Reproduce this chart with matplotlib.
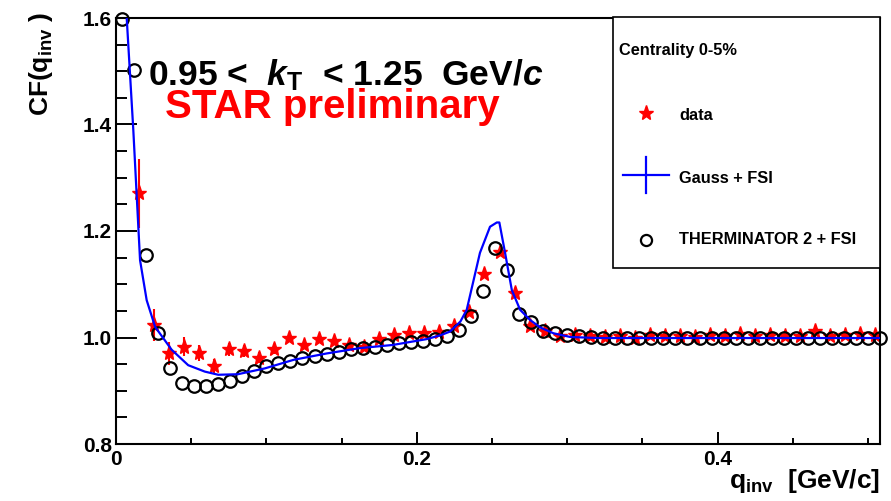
import numpy as np
import matplotlib
matplotlib.use("Agg")
import matplotlib.pyplot as plt
from matplotlib.lines import Line2D
from matplotlib.patches import Rectangle
from matplotlib.ticker import MultipleLocator, FuncFormatter

plt.rcParams['font.family'] = ['Liberation Sans', 'DejaVu Sans']
plt.rcParams['font.weight'] = 'bold'
plt.rcParams['mathtext.fontset'] = 'custom'
plt.rcParams['mathtext.rm'] = 'Liberation Sans:bold'
plt.rcParams['mathtext.it'] = 'Liberation Sans:italic:bold'
plt.rcParams['mathtext.bf'] = 'Liberation Sans:bold'

# STAR data, 0.01 GeV/c bins
data_q = np.round(0.015 + 0.01 * np.arange(50), 3)
data_cf = [1.271, 1.023, 0.970, 0.983, 0.970, 0.947, 0.978, 0.974, 0.962, 0.978,
           1.000, 0.986, 0.998, 0.994, 0.986, 0.983, 0.998, 1.004, 1.009, 1.008,
           1.011, 1.022, 1.047, 1.120, 1.161, 1.083, 1.021, 1.012, 1.003, 1.004,
           1.002, 1.001, 1.003, 1.000, 1.004, 1.002, 1.003, 1.001, 1.005, 1.003,
           1.006, 1.002, 1.004, 1.003, 1.002, 1.013, 1.003, 1.004, 1.006, 1.004]
data_err = [0.065, 0.030, 0.022, 0.018, 0.015, 0.013, 0.012, 0.011, 0.010, 0.009,
            0.009, 0.008, 0.008, 0.007, 0.007, 0.007, 0.006, 0.006, 0.006, 0.006,
            0.006, 0.006, 0.006, 0.006, 0.006, 0.006, 0.005, 0.005, 0.005, 0.005,
            0.005, 0.005, 0.005, 0.005, 0.005, 0.005, 0.005, 0.005, 0.005, 0.005,
            0.005, 0.005, 0.005, 0.005, 0.005, 0.005, 0.005, 0.005, 0.005, 0.005]

# THERMINATOR 2 + FSI, 0.008 GeV/c bins
therm_q = np.round(0.004 + 0.008 * np.arange(64), 3)
therm_cf = [1.598, 1.502, 1.155, 1.008, 0.943, 0.915, 0.908, 0.909, 0.913, 0.919,
            0.928, 0.938, 0.946, 0.952, 0.956, 0.961, 0.965, 0.969, 0.973, 0.978,
            0.980, 0.983, 0.986, 0.989, 0.992, 0.994, 0.998, 1.002, 1.014, 1.040,
            1.088, 1.169, 1.127, 1.045, 1.030, 1.013, 1.008, 1.005, 1.003, 1.001,
            1.000, 1.000, 0.999, 0.999, 1.000, 0.999, 0.999, 1.000, 0.999, 0.999,
            0.999, 1.000, 0.999, 0.999, 0.999, 0.999, 1.000, 0.999, 0.999, 0.999,
            0.999, 0.999, 0.999, 0.999]

# Gauss + FSI fit
fit_q = [0.004, 0.0115, 0.016, 0.0204, 0.026, 0.037, 0.048, 0.059, 0.068, 0.081,
         0.099, 0.118, 0.140, 0.162, 0.184, 0.2066, 0.2155, 0.222, 0.229, 0.2332,
         0.242, 0.2487, 0.2532, 0.2549, 0.2587, 0.2632, 0.2687, 0.2753, 0.282, 0.2908,
         0.302, 0.32, 0.40, 0.508]
fit_cf = [1.75, 1.39, 1.145, 1.07, 1.02, 0.977, 0.948, 0.936, 0.930, 0.931,
          0.942, 0.958, 0.970, 0.980, 0.986, 0.997, 1.004, 1.011, 1.030, 1.052,
          1.159, 1.208, 1.216, 1.216, 1.159, 1.089, 1.052, 1.033, 1.019, 1.008,
          1.001, 0.999, 0.999, 0.999]

W, H = 891, 501
fig = plt.figure(figsize=(W / 100, H / 100), dpi=100)
ax = fig.add_axes([116 / W, 1 - 444 / H, (880 - 116) / W, (444 - 18) / H])

ax.errorbar(data_q, data_cf, yerr=data_err, fmt='*', color='red', ms=11,
            elinewidth=1.5, capsize=0, zorder=2)
ax.plot(therm_q, therm_cf, 'o', mfc='none', mec='black', ms=9, mew=1.6,
        clip_on=False, zorder=3)
ax.plot(fit_q, fit_cf, color='blue', lw=1.6, zorder=4)

ax.set_xlim(0, 0.508)
ax.set_ylim(0.8, 1.6)
ax.xaxis.set_major_locator(MultipleLocator(0.2))
ax.xaxis.set_minor_locator(MultipleLocator(0.05))
ax.yaxis.set_major_locator(MultipleLocator(0.2))
ax.yaxis.set_minor_locator(MultipleLocator(0.05))
ax.xaxis.set_major_formatter(FuncFormatter(lambda v, p: '0' if abs(v) < 1e-9 else '%.1f' % v))
ax.yaxis.set_major_formatter(FuncFormatter(lambda v, p: '%.1f' % v))
ax.tick_params(which='both', direction='in', top=False, right=False, width=1.4, labelsize=15)
ax.tick_params(axis='y', which='major', length=15, pad=3)
ax.tick_params(axis='y', which='minor', length=8)
ax.tick_params(axis='x', which='major', length=8.6, pad=4)
ax.tick_params(axis='x', which='minor', length=4.3)
for s in ax.spines.values():
    s.set_linewidth(1.5)

def fx(x):
    return x / W

def fy(y):
    return 1 - y / H

fig.text(fx(41), fy(12), r'CF(q$_{\mathrm{inv}}$ )', rotation=90, ha='center', va='top',
         fontsize=19, fontweight='bold')
fig.text(fx(880), fy(467), r'q$_{\mathrm{inv}}$  [GeV/c]', ha='right', va='top',
         fontsize=19, fontweight='bold')

fig.text(fx(148), fy(85), r'0.95 <  $k_{\mathrm{T}}$  < 1.25  GeV/$c$', ha='left', va='baseline',
         fontsize=25.5, fontweight='bold', color='black')
fig.text(fx(165), fy(118), 'STAR preliminary', ha='left', va='baseline',
         fontsize=29, fontweight='bold', color='red')

# legend box
fig.add_artist(Rectangle((fx(613), fy(268)), fx(880 - 613), (268 - 17) / H,
                         transform=fig.transFigure, fill=True, facecolor='white',
                         edgecolor='black', lw=1.2, zorder=5))
fig.text(fx(619), fy(50), 'Centrality 0-5%', ha='left', va='center', fontsize=11.8,
         fontweight='bold', zorder=6)
fig.add_artist(Line2D([fx(646)], [fy(113)], marker='*', color='red', ms=11,
                      ls='none', transform=fig.transFigure, zorder=6))
fig.add_artist(Line2D([fx(623), fx(669)], [fy(175), fy(175)], color='blue', lw=1.6,
                      transform=fig.transFigure, zorder=6))
fig.add_artist(Line2D([fx(646), fx(646)], [fy(157), fy(193)], color='blue', lw=1.6,
                      transform=fig.transFigure, zorder=6))
fig.add_artist(Line2D([fx(646)], [fy(240)], marker='o', mfc='none', mec='black', ms=8,
                      mew=1.6, ls='none', transform=fig.transFigure, zorder=6))
for y, lab in [(115, 'data'), (178, 'Gauss + FSI'), (240, 'THERMINATOR 2 + FSI')]:
    fig.text(fx(679), fy(y), lab, ha='left', va='center', fontsize=11.8,
             fontweight='bold', zorder=6)

fig.savefig('out.png', dpi=100)
